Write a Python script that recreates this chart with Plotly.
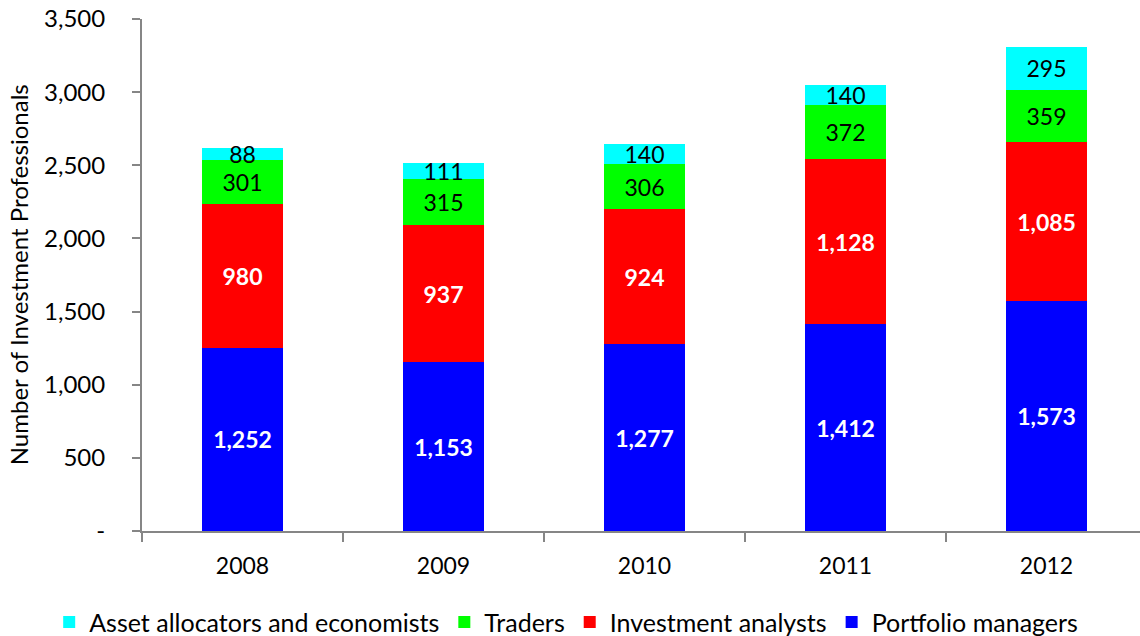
import plotly.graph_objects as go

years = ["2008", "2009", "2010", "2011", "2012"]
portfolio_managers = [1252, 1153, 1277, 1412, 1573]
investment_analysts = [980, 937, 924, 1128, 1085]
traders = [301, 315, 306, 372, 359]
asset_allocators = [88, 111, 140, 140, 295]

y_ticks = [0, 500, 1000, 1500, 2000, 2500, 3000, 3500]
y_ticklabels = ["-", "500", "1,000", "1,500", "2,000", "2,500", "3,000", "3,500"]

FONT = "Lato"
AXIS_GRAY = "#868686"

series = [
    ("Portfolio managers", portfolio_managers, "#0000FF", "white", True),
    ("Investment analysts", investment_analysts, "#FF0000", "white", True),
    ("Traders", traders, "#00FF00", "black", False),
    ("Asset allocators and economists", asset_allocators, "#00FFFF", "black", False),
]

fig = go.Figure()
for name, vals, color, tcolor, bold in series:
    fig.add_trace(go.Bar(
        x=years, y=vals, name=name,
        marker=dict(color=color, line=dict(width=0)),
        width=0.4,
        text=[f"{v:,}" for v in vals],
        textposition="inside",
        insidetextanchor="middle",
        constraintext="none",
        textangle=0,
        cliponaxis=False,
        textfont=dict(family=FONT, size=23, color=tcolor,
                      weight="bold" if bold else "normal"),
    ))

fig.update_layout(
    barmode="stack",
    width=1140, height=636,
    margin=dict(l=142, r=0, t=19, b=105, autoexpand=False),
    paper_bgcolor="white", plot_bgcolor="white",
    font=dict(family=FONT, size=23, color="black"),
    showlegend=True,
    legend=dict(orientation="h", traceorder="reversed",
                x=-0.093, xanchor="left", y=-0.178, yanchor="middle",
                font=dict(family=FONT, size=25, color="black"),
                itemwidth=30, bgcolor="rgba(0,0,0,0)"),
    xaxis=dict(type="category", range=[-0.5, 4.465],
               showline=True, linecolor=AXIS_GRAY, linewidth=2,
               ticks="outside", tickson="boundaries", ticklen=9,
               tickcolor=AXIS_GRAY, tickwidth=2,
               ticklabelstandoff=13,
               showgrid=False, zeroline=False,
               tickfont=dict(family=FONT, size=23)),
    yaxis=dict(range=[0, 3500], tickvals=y_ticks, ticktext=y_ticklabels,
               showline=True, linecolor=AXIS_GRAY, linewidth=2,
               ticks="outside", ticklen=8, tickcolor=AXIS_GRAY, tickwidth=2,
               ticklabelstandoff=22,
               showgrid=False, zeroline=False,
               tickfont=dict(family=FONT, size=24)),
    annotations=[dict(text="Number of Investment Professionals",
                      xref="paper", yref="paper", x=-0.124, y=0.5,
                      xanchor="center", yanchor="middle", textangle=-90,
                      showarrow=False, font=dict(family=FONT, size=24))],
)

fig.write_html("out.html")
